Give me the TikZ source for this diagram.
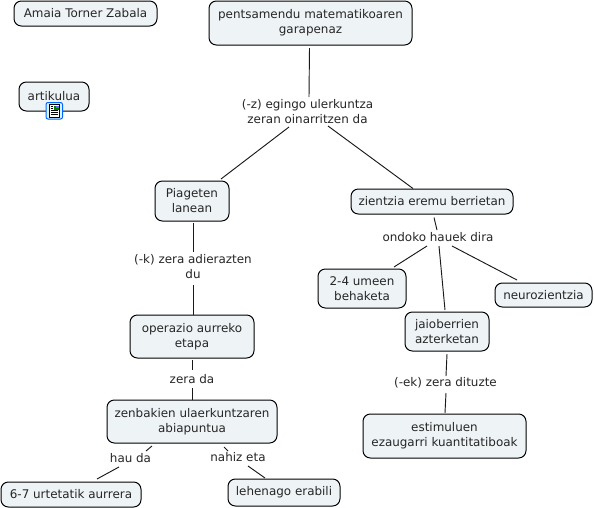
\documentclass[tikz,border=0pt]{standalone}
\usepackage{fontspec}
\setmainfont{DejaVu Sans}
\usetikzlibrary{calc}
\definecolor{boxfill}{HTML}{EEF3F6}
\tikzset{
  x=0.75pt,y=-0.75pt,
  base/.style={font=\fontsize{8.95pt}{11.25pt}\selectfont,align=center,text=black!85,inner sep=0pt},
  concept/.style={base,draw=black,fill=boxfill,line width=0.75pt,rounded corners=5.5pt},
  linking/.style={base},
  link/.style={draw=black!90,line width=0.7pt}
}
\newcommand{\cbox}[6]{% name, x0,y0,x1,y1,text
  \node[concept,minimum width=#4*0.75pt-#2*0.75pt,minimum height=#5*0.75pt-#3*0.75pt] (#1) at ({(#2+#4)/2},{(#3+#5)/2}) {#6};}
\newcommand{\lnk}[6]{\draw[link] ($(#1)+(#2,#3)$) -- ($(#4)+(#5,#6)$);}
\begin{document}
\begin{tikzpicture}
\useasboundingbox (0,0) rectangle (594,508);
\fill[white] (0,0) rectangle (594,508);
\cbox{amaia}{14}{1}{157}{26}{Amaia Torner Zabala}
\cbox{art}{19}{82}{89}{111}{artikulua}
\cbox{pents}{209}{1}{412}{45}{pentsamendu matematikoaren\\garapenaz}
\cbox{piaget}{155}{181}{229}{221}{Piageten\\lanean}
\cbox{zient}{351}{189}{513}{214}{zientzia eremu berrietan}
\cbox{umeen}{318}{269}{406}{308}{2-4 umeen\\behaketa}
\cbox{neuro}{495}{283}{592}{307}{neurozientzia}
\cbox{jaio}{405}{312}{489}{351}{jaioberrien\\azterketan}
\cbox{estim}{363}{414}{526}{458}{estimuluen\\ezaugarri kuantitatiboak}
\cbox{oper}{130}{315}{254}{358}{operazio aurreko\\etapa}
\cbox{zenb}{107}{400}{277}{443}{zenbakien ulaerkuntzaren\\abiapuntua}
\cbox{sei}{1}{482}{141}{507}{6-7 urtetatik aurrera}
\cbox{lehen}{228}{479}{340}{506}{lehenago erabili}
% labels
\node[linking] (l1) at (307.5,111.5) {(-z) egingo ulerkuntza\\zeran oinarritzen da};
\node[linking] (l2) at (193,267) {(-k) zera adierazten\\du};
\node[linking] (l3) at (192,379) {zera da};
\node[linking] (l4) at (438,237) {ondoko hauek dira};
\node[linking] (l5) at (445.5,383) {(-ek) zera dituzte};
\node[linking] (l6) at (130.5,458) {hau da};
\node[linking] (l7) at (238,457) {nahiz eta};
% connectors
\lnk{pents}{-1}{25}{l1}{1.5}{-14.5}
\lnk{l1}{-18.5}{15.5}{piaget}{29}{-22}
\lnk{l1}{20.5}{14.5}{zient}{-19}{-13}
\lnk{piaget}{1}{22}{l2}{0}{-15}
\lnk{l2}{0}{18}{oper}{1}{-21.5}
\lnk{oper}{0}{23.5}{l3}{0}{-9}
\lnk{l3}{0}{9}{zenb}{0}{-21.5}
\lnk{zient}{2}{16}{l4}{-1}{-7}
\lnk{l4}{-11}{9}{umeen}{32}{-21.5}
\lnk{l4}{1}{9}{jaio}{-2}{-21.5}
\lnk{l4}{14}{9}{neuro}{-26.5}{-15}
\lnk{jaio}{0}{22.5}{l5}{0.5}{-7}
\lnk{l5}{0.5}{10}{estim}{0.5}{-23}
\lnk{zenb}{-40}{24.5}{l6}{15.5}{-7}
\lnk{l6}{-11.5}{9}{sei}{26}{-15.5}
\lnk{zenb}{32}{25.5}{l7}{-10}{-6}
\lnk{l7}{10}{9}{lehen}{-19}{-14.5}
% document icon
\begin{scope}[shift={(46,102.5)}]
  \draw[draw=blue!60!cyan,fill=cyan!15,line width=0.75pt,rounded corners=1.5pt] (0,0) rectangle (16.5,16.5);
  \draw[black,fill=white,line width=0.5pt] (3,2) rectangle (13.5,14.5);
  \fill[green!50!black] (8,3.5) rectangle (12.5,7);
  \fill[blue!60] (10,3.5) rectangle (12.5,5.5);
  \foreach \yy/\xe in {4/7,6/7,8/12,10/12,12/12}{\draw[black,line width=0.45pt] (4.5,\yy) -- (\xe,\yy);}
\end{scope}
\end{tikzpicture}
\end{document}
